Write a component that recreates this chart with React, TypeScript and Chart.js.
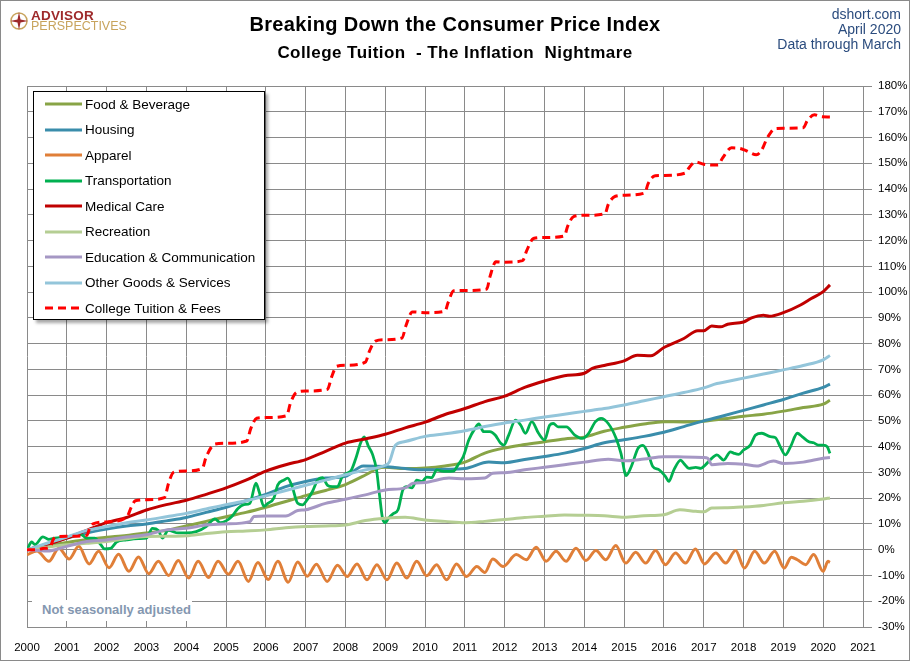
import React, { useEffect, useRef } from "react";
import { Chart, registerables } from "chart.js";

Chart.register(...registerables);

type Pt = [number, number];

// ---- categories / labels ----
const seriesNames = [
  "Food & Beverage",
  "Housing",
  "Apparel",
  "Transportation",
  "Medical Care",
  "Recreation",
  "Education & Communication",
  "Other Goods & Services",
  "College Tuition & Fees",
];
const seriesColors = [
  "#88A446",
  "#3A8DAB",
  "#E07F38",
  "#00B050",
  "#C00000",
  "#B5CE93",
  "#A597C4",
  "#93C5DA",
  "#FF0000",
];
const xMin = 2000;
const xMax = 2021;
const yMin = -30;
const yMax = 180;
const headerLines = ["dshort.com", "April 2020", "Data through March"];
const titleText = "Breaking Down the Consumer Price Index";
const subtitleText = "College Tuition  - The Inflation  Nightmare";
const noteText = "Not seasonally adjusted";

// ---- series values: [year, % change since Jan 2000] ----
const foodBeverage: Pt[] = [
  [2000, 0], [2000.5, 1.5], [2001, 2.8], [2001.5, 4], [2002, 4.8], [2002.5, 5.5],
  [2003, 6.5], [2003.5, 7.5], [2004, 9.2], [2004.5, 11], [2005, 12.8], [2005.5, 14.5],
  [2006, 16.5], [2006.5, 18.7], [2007, 21], [2007.5, 23], [2008, 25.3], [2008.5, 29],
  [2008.8, 31.5], [2009, 32], [2009.5, 31.5], [2010, 31.7], [2010.5, 32.5], [2011, 34],
  [2011.5, 37.5], [2012, 39.5], [2012.5, 40.8], [2013, 41.9], [2013.5, 43], [2014, 43.7],
  [2014.5, 46], [2015, 47.5], [2015.5, 48.8], [2016, 49.7], [2016.5, 49.6], [2017, 49.9],
  [2017.5, 50.8], [2018, 51.8], [2018.5, 52.6], [2019, 53.8], [2019.5, 55.2], [2020, 56.5],
  [2020.17, 58],
];
const housing: Pt[] = [
  [2000, 0], [2000.5, 2], [2001, 4.5], [2001.5, 6.5], [2002, 8], [2002.5, 9.2], [2003, 10],
  [2003.5, 11.2], [2004, 12.5], [2004.5, 14.5], [2005, 16.5], [2005.5, 19], [2006, 21.5],
  [2006.5, 24.5], [2007, 26.5], [2007.5, 27.8], [2008, 28.5], [2008.45, 32.5], [2009, 32.3],
  [2009.5, 31.5], [2010, 31], [2010.5, 31.2], [2011, 31.5], [2011.6, 34], [2012, 33.8],
  [2012.5, 35], [2013, 36.2], [2013.5, 37.5], [2014, 39.3], [2014.5, 41.5], [2015, 42.7],
  [2015.5, 44], [2016, 45.6], [2016.5, 47.8], [2017, 50], [2017.5, 52], [2018, 54.1],
  [2018.5, 56.2], [2019, 58.3], [2019.5, 60.8], [2020, 63], [2020.17, 64.3],
];
const apparel: Pt[] = [
  [2000, -2], [2000.25, -0.5], [2000.55, -4.5], [2000.8, 0.6], [2001.06, -3.6], [2001.3, 1.3],
  [2001.56, -5.5], [2001.8, -0.6], [2002.06, -7], [2002.3, -1.8], [2002.56, -8.4], [2002.8, -2.8],
  [2003.06, -9.3], [2003.3, -4.5], [2003.56, -10], [2003.8, -4.2], [2004.06, -11], [2004.3, -4.5],
  [2004.56, -10.8], [2004.8, -4.5], [2005.06, -9.5], [2005.3, -4.5], [2005.56, -12.3], [2005.8, -5],
  [2006.06, -11.6], [2006.3, -4.5], [2006.56, -12.6], [2006.8, -4.8], [2007.04, -10.3], [2007.27, -5.6],
  [2007.54, -12.3], [2007.8, -6], [2008.04, -10.4], [2008.29, -5.5], [2008.54, -11.7], [2008.79, -5.8],
  [2009.04, -11.7], [2009.29, -5.2], [2009.54, -11], [2009.79, -4.5], [2010.04, -10.1], [2010.29, -5.8],
  [2010.54, -11.7], [2010.79, -5.5], [2011.04, -10.4], [2011.3, -6.5], [2011.5, -8.8], [2011.7, -3.6],
  [2011.96, -6.5], [2012.29, -1.9], [2012.54, -3.9], [2012.79, 1], [2013.04, -4.5], [2013.29, -0.6],
  [2013.54, -4.5], [2013.79, 0.6], [2014.04, -4.2], [2014.29, -0.3], [2014.54, -3.9], [2014.79, 1.6],
  [2015.04, -5.2], [2015.29, -1], [2015.54, -5.2], [2015.79, -0.3], [2016.04, -5.8], [2016.29, -1.3],
  [2016.54, -5.2], [2016.79, 0.3], [2017.02, -5.5], [2017.3, -1.3], [2017.55, -5.2], [2017.8, -0.3],
  [2018.02, -7.1], [2018.28, -0.6], [2018.52, -5.2], [2018.78, -0.6], [2019.02, -7.1], [2019.2, -2.9],
  [2019.35, -3.9], [2019.56, -5.8], [2019.76, -1.9], [2020, -8.4], [2020.12, -4.5], [2020.17, -4.9],
];
const transportation: Pt[] = [
  [2000, 0], [2000.12, 3], [2000.2, 2], [2000.4, 5], [2000.55, 4], [2000.7, 4.5], [2001, 5],
  [2001.2, 5.5], [2001.35, 6], [2001.5, 4.5], [2001.7, 4.5], [2001.85, 2], [2001.95, 0.3],
  [2002.1, 0.5], [2002.25, 3], [2002.5, 3.8], [2002.8, 4.3], [2003, 4.5], [2003.15, 8.3],
  [2003.3, 7.5], [2003.4, 4.5], [2003.55, 7.5], [2003.8, 6.5], [2004, 6.5], [2004.25, 7],
  [2004.5, 9], [2004.72, 12], [2004.85, 10.5], [2005, 11.2], [2005.15, 13], [2005.3, 16],
  [2005.45, 17.5], [2005.6, 18], [2005.75, 25.8], [2005.83, 22.6], [2005.95, 16.8], [2006.05, 18],
  [2006.2, 20], [2006.3, 25.2], [2006.45, 27], [2006.55, 27.8], [2006.65, 25], [2006.8, 18],
  [2006.92, 17.4], [2007.04, 19.4], [2007.17, 22.6], [2007.3, 27], [2007.42, 28], [2007.55, 25],
  [2007.67, 24.5], [2007.8, 24.5], [2007.92, 28.4], [2008.04, 29.7], [2008.15, 31], [2008.25, 35],
  [2008.38, 41.4], [2008.47, 43.8], [2008.58, 40], [2008.68, 37], [2008.78, 31], [2008.86, 20.6],
  [2008.93, 12.2], [2009, 10.5], [2009.08, 12.2], [2009.2, 14], [2009.32, 15.5], [2009.44, 23.2],
  [2009.54, 24.5], [2009.67, 24], [2009.79, 27], [2009.92, 26.5], [2010.04, 28.2], [2010.17, 28],
  [2010.29, 31], [2010.42, 30.5], [2010.54, 30.4], [2010.71, 30.5], [2010.83, 33], [2010.96, 36.2],
  [2011.1, 42.7], [2011.25, 47], [2011.35, 48.8], [2011.47, 45.8], [2011.63, 45.8], [2011.76, 44.5],
  [2011.9, 41.3], [2011.98, 40.6], [2012.1, 44.5], [2012.27, 50.3], [2012.4, 48.4], [2012.52, 45.2],
  [2012.68, 49.7], [2012.85, 45.2], [2013, 42.6], [2013.13, 48.4], [2013.22, 49], [2013.34, 47.7],
  [2013.55, 47.7], [2013.76, 44.5], [2013.95, 43.2], [2014.1, 45], [2014.28, 49.7], [2014.42, 51],
  [2014.6, 49], [2014.8, 43.2], [2014.92, 37.4], [2015.05, 28.8], [2015.18, 32.3], [2015.35, 39.4],
  [2015.47, 40.5], [2015.6, 37.4], [2015.72, 32.3], [2015.88, 31], [2016.04, 28.4], [2016.12, 26.5],
  [2016.25, 31], [2016.42, 34.8], [2016.5, 33.5], [2016.63, 31.6], [2016.8, 32], [2016.93, 31.6],
  [2017.04, 32.9], [2017.17, 35], [2017.33, 36.8], [2017.5, 34.8], [2017.67, 38], [2017.75, 37.5],
  [2017.88, 37], [2018, 38.7], [2018.17, 40.6], [2018.3, 44.5], [2018.46, 45.2], [2018.67, 43.9],
  [2018.8, 43.5], [2018.92, 40], [2019.05, 36.8], [2019.18, 40], [2019.35, 45.2], [2019.47, 43.9],
  [2019.64, 41.9], [2019.76, 41.5], [2019.88, 40.6], [2020, 40.6], [2020.1, 40], [2020.17, 37.4],
];
const medicalCare: Pt[] = [
  [2000, 0], [2000.5, 2], [2001, 4.5], [2001.5, 7.5], [2002, 10.5], [2002.5, 12.5], [2003, 15.4],
  [2003.5, 17.5], [2004, 19.2], [2004.5, 21.5], [2005, 24], [2005.5, 27], [2006, 30.5],
  [2006.5, 33], [2007, 35], [2007.5, 38.2], [2008, 41.4], [2008.5, 43], [2009, 44.8],
  [2009.5, 47.3], [2010, 49.5], [2010.5, 52.5], [2011, 54.8], [2011.5, 57.5], [2012, 59.6],
  [2012.5, 63], [2013, 65.5], [2013.5, 67.5], [2014, 68.5], [2014.2, 70.4], [2014.5, 71.5],
  [2015, 73.3], [2015.33, 75.5], [2015.67, 75.3], [2016, 78.5], [2016.5, 82], [2016.85, 85],
  [2017, 85], [2017.2, 86.8], [2017.42, 86.5], [2017.6, 87.5], [2018, 88.4], [2018.2, 90],
  [2018.5, 91], [2018.65, 90.6], [2019, 92], [2019.43, 95], [2019.7, 97.5], [2020, 100.2],
  [2020.17, 102.8],
];
const recreation: Pt[] = [
  [2000, 0], [2000.5, 1], [2001, 1.9], [2001.5, 2.5], [2002, 3.2], [2002.5, 4.3], [2003, 5.1],
  [2003.5, 5.2], [2004, 5.4], [2004.5, 6.3], [2005, 7], [2005.5, 7.3], [2006, 7.7], [2006.5, 8.5],
  [2007, 9], [2007.5, 9.2], [2008, 9.6], [2008.5, 11.3], [2009, 12.2], [2009.5, 12.6], [2010, 11.5],
  [2010.5, 11], [2011, 10.5], [2011.5, 11], [2012, 11.7], [2012.5, 12.5], [2013, 13], [2013.5, 13.5],
  [2014, 13.4], [2014.5, 13.2], [2015, 12.6], [2015.5, 13.2], [2016, 13.6], [2016.4, 15.5],
  [2016.8, 14.9], [2017, 14.7], [2017.2, 16.2], [2017.6, 16.3], [2018, 16.6], [2018.5, 17.2],
  [2019, 18.2], [2019.5, 18.8], [2020, 19.7], [2020.17, 20.1],
];
const educationCommunication: Pt[] = [
  [2000, 0], [2000.5, -0.5], [2001, 1.3], [2001.5, 3.2], [2002, 3.8], [2002.5, 4.9], [2003, 5.8],
  [2003.5, 7.7], [2004, 8.3], [2004.5, 9.6], [2005, 10], [2005.6, 10.9], [2005.7, 12.9],
  [2006, 13.1], [2006.5, 13.1], [2006.8, 15.2], [2007, 15.5], [2007.5, 18], [2008, 19.6],
  [2008.5, 21.3], [2009, 23.2], [2009.5, 24], [2009.7, 25.8], [2010, 26.1], [2010.6, 27.8],
  [2011, 27.5], [2011.5, 27.8], [2011.7, 29.7], [2012, 29.9], [2012.5, 31], [2013, 32],
  [2013.5, 33], [2014, 34], [2014.6, 35.1], [2015, 34.5], [2015.5, 35.2], [2016, 36.1],
  [2016.5, 36], [2017, 35.8], [2017.1, 35.5], [2017.2, 33], [2017.6, 33.5], [2018, 33.2],
  [2018.33, 32.5], [2018.75, 34.4], [2019, 33.5], [2019.5, 34], [2020, 35.5], [2020.17, 35.8],
];
const otherGoodsServices: Pt[] = [
  [2000, 0], [2000.5, 2.5], [2001, 4.9], [2001.5, 7.5], [2002, 9], [2002.5, 10.5], [2003, 11.5],
  [2003.5, 12.8], [2004, 14.1], [2004.5, 15.8], [2005, 17.5], [2005.5, 19], [2006, 20.9],
  [2006.5, 23], [2007, 25], [2007.5, 27], [2008, 29.1], [2008.5, 31], [2009, 32.8], [2009.1, 34],
  [2009.25, 40.5], [2009.5, 42], [2010, 44], [2010.5, 45], [2011, 46.2], [2011.5, 47.8],
  [2012, 49.2], [2012.5, 50.3], [2013, 51.5], [2013.5, 52.6], [2014, 53.7], [2014.5, 54.8],
  [2015, 56.2], [2015.5, 57.8], [2016, 59.4], [2016.5, 61], [2017, 62.8], [2017.33, 64.5],
  [2017.5, 65], [2018, 66.6], [2018.5, 68.2], [2019, 69.8], [2019.5, 71.5], [2020, 73.7],
  [2020.17, 75.4],
];
const collegeTuition: Pt[] = [
  [2000, 0], [2000.25, 0], [2000.4, 0.5], [2000.58, 1], [2000.66, 4], [2000.74, 5], [2001, 5.2],
  [2001.5, 5.6], [2001.58, 8.5], [2001.66, 10], [2002, 10.8], [2002.5, 12.5], [2002.62, 16.5],
  [2002.72, 19], [2003, 19.4], [2003.45, 20.2], [2003.56, 26], [2003.68, 30], [2004, 30.6],
  [2004.4, 31.5], [2004.5, 36], [2004.72, 41], [2005, 41.3], [2005.52, 42.2], [2005.62, 47],
  [2005.77, 51], [2006, 51.3], [2006.52, 52], [2006.62, 57], [2006.77, 61], [2007, 61.6],
  [2007.55, 62.3], [2007.65, 67], [2007.78, 71.2], [2008, 71.6], [2008.5, 72.8], [2008.6, 77],
  [2008.75, 81], [2009, 81.5], [2009.42, 82.2], [2009.52, 87], [2009.68, 92.3], [2010, 92],
  [2010.5, 92.6], [2010.58, 96], [2010.72, 100.5], [2011, 100.6], [2011.55, 101.2], [2011.63, 106],
  [2011.78, 111.8], [2012, 111.6], [2012.45, 112.2], [2012.55, 116], [2012.72, 120.8], [2013, 121.2],
  [2013.5, 121.8], [2013.58, 125.5], [2013.73, 129.3], [2014, 129.8], [2014.52, 130.4], [2014.6, 134],
  [2014.78, 137.2], [2015, 137.6], [2015.52, 138.5], [2015.6, 142], [2015.78, 145.2], [2016, 145.3],
  [2016.54, 146.2], [2016.64, 148.5], [2016.8, 150.5], [2017, 149.6], [2017.36, 149.3], [2017.47, 152],
  [2017.7, 156], [2017.9, 155.8], [2018.05, 155], [2018.32, 153.3], [2018.45, 155], [2018.6, 160],
  [2018.8, 163.5], [2019, 163.6], [2019.5, 163.8], [2019.6, 166.5], [2019.78, 168.8], [2019.95, 168.1],
  [2020.17, 168],
];

const seriesData: Pt[][] = [
  foodBeverage,
  housing,
  apparel,
  transportation,
  medicalCare,
  recreation,
  educationCommunication,
  otherGoodsServices,
  collegeTuition,
];

const FONT = "'Liberation Sans', Arial, Helvetica, sans-serif";

function LegendSample({ color, dashed }: { color: string; dashed: boolean }) {
  return (
    <svg width={38} height={6} style={{ display: "block" }}>
      <line
        x1={0}
        y1={3}
        x2={37}
        y2={3}
        stroke={color}
        strokeWidth={3}
        strokeDasharray={dashed ? "8 5" : undefined}
      />
    </svg>
  );
}

export default function App() {
  const canvasRef = useRef<HTMLCanvasElement | null>(null);

  useEffect(() => {
    const canvas = canvasRef.current;
    if (!canvas) return;
    const datasets = seriesNames.map((name, i) => ({
      label: name,
      data: seriesData[i].map(([x, y]) => ({ x, y })),
      borderColor: seriesColors[i],
      backgroundColor: seriesColors[i],
      borderWidth: i === 3 ? 2.8 : 3,
      borderDash: i === 8 ? [8, 5] : [],
      pointRadius: 0,
      fill: false,
      cubicInterpolationMode: "monotone" as const,
      order: seriesNames.length - i,
    }));
    const chart = new Chart(canvas, {
      type: "line",
      data: { datasets },
      options: {
        animation: false,
        responsive: false,
        events: [],
        layout: { padding: { left: 27, top: 86, right: 0, bottom: 0 } },
        plugins: {
          legend: { display: false },
          title: { display: false },
          tooltip: { enabled: false },
        },
        scales: {
          x: {
            type: "linear",
            min: xMin,
            max: xMax,
            ticks: {
              stepSize: 1,
              autoSkip: false,
              maxRotation: 0,
              padding: 14,
              color: "#000",
              font: { family: FONT, size: 11.5 },
              callback: (v: any) => String(v),
            },
            grid: { color: "#8a8a8a", lineWidth: 1, drawTicks: false },
            border: { display: true, color: "#8a8a8a", width: 1 },
            afterFit: (scale: any) => {
              scale.height = 34;
            },
          },
          y: {
            type: "linear",
            position: "right",
            min: yMin,
            max: yMax,
            ticks: {
              stepSize: 10,
              padding: 6,
              color: "#000",
              font: { family: FONT, size: 11.5 },
              callback: (v: any) => v + "%",
            },
            grid: { color: "#8a8a8a", lineWidth: 1, drawTicks: true, tickLength: 9 },
            border: { display: true, color: "#8a8a8a", width: 1 },
            afterFit: (scale: any) => {
              scale.width = 47;
            },
          },
        },
      },
    });
    return () => chart.destroy();
  }, []);

  return (
    <div
      style={{
        position: "fixed",
        left: 0,
        top: 0,
        width: 910,
        height: 661,
        background: "#fff",
        fontFamily: FONT,
        overflow: "hidden",
      }}
    >
      <canvas
        ref={canvasRef}
        width={910}
        height={661}
        style={{ position: "absolute", left: 0, top: 0, width: 910, height: 661 }}
      />

      {/* logo */}
      <svg
        width={20}
        height={20}
        viewBox="0 0 20 20"
        style={{ position: "absolute", left: 9, top: 11 }}
      >
        <circle cx={10} cy={10} r={8} fill="none" stroke="#C8A45D" strokeWidth={1.5} />
        <polygon points="10,1 11.5,8.5 19,10 11.5,11.5 10,19 8.5,11.5 1,10 8.5,8.5" fill="#9E2A2B" />
      </svg>
      <div
        style={{
          position: "absolute",
          left: 31,
          top: 9,
          fontSize: 13.5,
          lineHeight: "13px",
          fontWeight: "bold",
          color: "#9E2A2B",
          letterSpacing: 0.2,
        }}
      >
        ADVISOR
      </div>
      <div
        style={{
          position: "absolute",
          left: 31,
          top: 19.5,
          fontSize: 12.5,
          lineHeight: "13px",
          color: "#C8A45D",
        }}
      >
        PERSPECTIVES
      </div>

      {/* titles */}
      <div
        style={{
          position: "absolute",
          left: 0,
          top: 13,
          width: 910,
          textAlign: "center",
          fontSize: 20,
          lineHeight: "23px",
          fontWeight: "bold",
          letterSpacing: 0.35,
          color: "#000",
        }}
      >
        {titleText}
      </div>
      <div
        style={{
          position: "absolute",
          left: 0,
          top: 43,
          width: 910,
          textAlign: "center",
          fontSize: 17,
          lineHeight: "20px",
          fontWeight: "bold",
          letterSpacing: 0.45,
          color: "#000",
          whiteSpace: "pre",
        }}
      >
        {subtitleText}
      </div>

      {/* top-right notes */}
      <div
        style={{
          position: "absolute",
          right: 9,
          top: 7,
          textAlign: "right",
          fontSize: 14,
          lineHeight: "15px",
          color: "#2B4C7E",
        }}
      >
        {headerLines.map((t) => (
          <div key={t}>{t}</div>
        ))}
      </div>

      {/* legend */}
      <div
        style={{
          position: "absolute",
          left: 33,
          top: 91,
          width: 230,
          height: 227,
          border: "1px solid #000",
          background: "#fff",
          boxShadow: "3px 3px 3px rgba(0,0,0,0.35)",
        }}
      >
        {seriesNames.map((name, i) => (
          <div
            key={name}
            style={{
              position: "absolute",
              left: 11,
              top: 12 + i * 25.55 - 9,
              height: 18,
              display: "flex",
              alignItems: "center",
              whiteSpace: "nowrap",
            }}
          >
            <LegendSample color={seriesColors[i]} dashed={i === 8} />
            <span style={{ marginLeft: 2, fontSize: 13.5, color: "#000" }}>{name}</span>
          </div>
        ))}
      </div>

      {/* note */}
      <div
        style={{
          position: "absolute",
          left: 32,
          top: 600,
          width: 160,
          height: 21,
          background: "#fff",
        }}
      >
        <div
          style={{
            position: "absolute",
            left: 10,
            top: 2,
            fontSize: 13,
            lineHeight: "16px",
            fontWeight: "bold",
            color: "#8497B0",
            whiteSpace: "nowrap",
          }}
        >
          {noteText}
        </div>
      </div>

      {/* outer frame */}
      <div
        style={{
          position: "absolute",
          left: 0,
          top: 0,
          width: 910,
          height: 661,
          border: "1px solid #8a8a8a",
          boxSizing: "border-box",
          pointerEvents: "none",
        }}
      />
    </div>
  );
}
